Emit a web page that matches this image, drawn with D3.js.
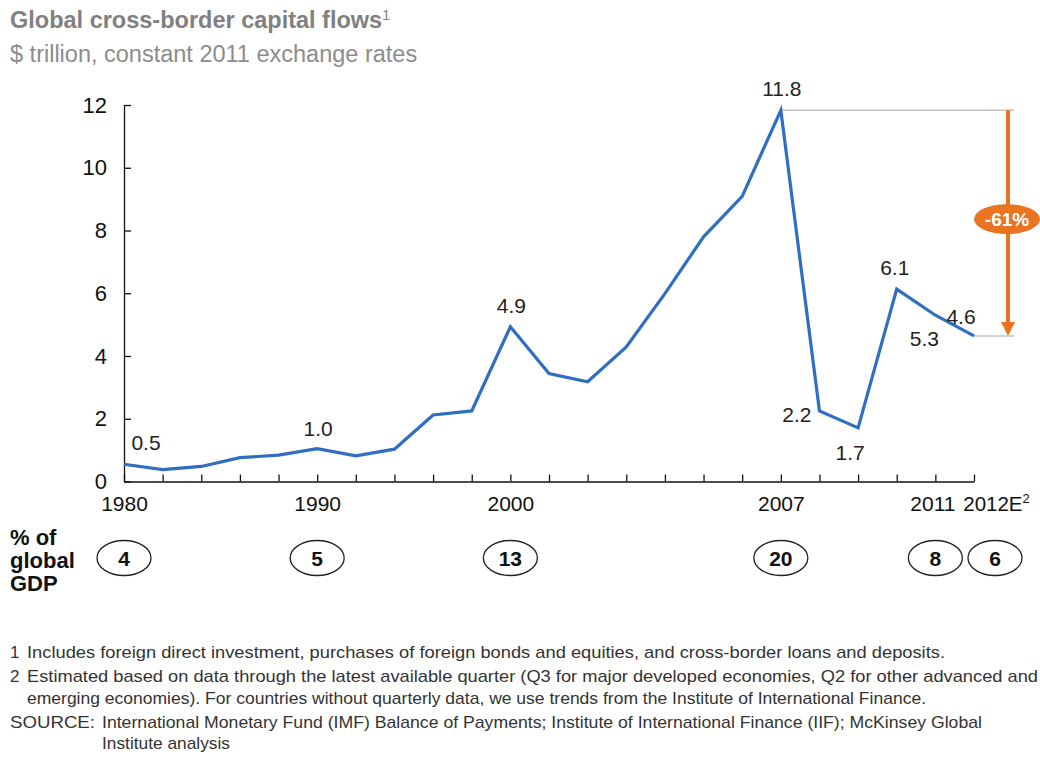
<!DOCTYPE html>
<html>
<head>
<meta charset="utf-8">
<script src="https://cdn.jsdelivr.net/npm/d3@7"></script>
<style>
  html, body { margin: 0; padding: 0; background: #fff; }
  svg { display: block; font-family: "Liberation Sans", Arial, sans-serif; }
</style>
</head>
<body>
<svg id="chart" width="1040" height="762"></svg>
<script>
// ---------- data ----------
const years = ["1980","1982","1984","1986","1988","1990","1992","1994","1996","1998",
               "2000","2001","2002","2003","2004","2005","2006","2007","2008","2009",
               "2010","2011","2012E"];
const flows = [0.55,0.38,0.48,0.76,0.84,1.05,0.82,1.03,2.12,2.25,
               4.93,3.44,3.18,4.29,5.99,7.80,9.09,11.83,2.25,1.71,
               6.13,5.30,4.64];
const labelYears = ["1980","1990","2000","2007","2008","2009","2010","2011","2012E"];
const labelTexts = ["0.5","1.0","4.9","11.8","2.2","1.7","6.1","5.3","4.6"];
const axisYears = ["1980","1990","2000","2007","2011","2012E"];
const gdpShare = [4,5,13,20,8,6];
const yTicks = [0,2,4,6,8,10,12];
const changeLabel = "-61%";
const peakYear = "2007";
const lastYear = "2012E";
const titleText = "Global cross-border capital flows";
const subtitleText = "$ trillion, constant 2011 exchange rates";
const footNums = ["1","2","","SOURCE:",""];
const footTexts = [
  "Includes foreign direct investment, purchases of foreign bonds and equities, and cross-border loans and deposits.",
  "Estimated based on data through the latest available quarter (Q3 for major developed economies, Q2 for other advanced and",
  "emerging economies). For countries without quarterly data, we use trends from the Institute of International Finance.",
  "International Monetary Fund (IMF) Balance of Payments; Institute of International Finance (IIF); McKinsey Global",
  "Institute analysis"
];

// ---------- layout ----------
const svg = d3.select("#chart");
const blue = "#2f6ec0", orange = "#ea7422";
const x = d3.scalePoint().domain(years).range([124, 974]);
const y = d3.scaleLinear().domain([0, 12]).range([481.5, 105]);

// title
const t = svg.append("text").attr("x", 10).attr("y", 28)
  .attr("font-size", 23.5).attr("font-weight", "bold").attr("fill", "#808080")
  .text(titleText);
t.append("tspan").attr("font-size", 14).attr("dy", -8).attr("font-weight", "normal").text("1");
svg.append("text").attr("x", 10).attr("y", 62)
  .attr("font-size", 23.5).attr("fill", "#8c8c8c").text(subtitleText);

// axes
const yAxis = d3.axisLeft(y).tickValues(yTicks).tickSize(-7).tickSizeOuter(0).tickPadding(17)
  .tickFormat(d3.format("d"));
const gy = svg.append("g").attr("transform", "translate(124,0)").call(yAxis);
gy.selectAll("text").attr("font-size", 22).attr("fill", "#111").attr("font-family", "Liberation Sans, Arial, sans-serif");
gy.selectAll("line, path").attr("stroke", "#111").attr("stroke-width", 1.3);

const xAxis = d3.axisBottom(x).tickSize(-7).tickSizeOuter(0).tickPadding(15)
  .tickFormat(d => axisYears.includes(d) ? d : "");
const gx = svg.append("g").attr("transform", "translate(0,481.5)").call(xAxis);
gx.selectAll("text").attr("font-size", 21).attr("fill", "#111").attr("font-family", "Liberation Sans, Arial, sans-serif");
gx.selectAll("line, path").attr("stroke", "#111").attr("stroke-width", 1.3);
// shift 2012E label right and add superscript
gx.selectAll(".tick").filter(d => d === lastYear).select("text")
  .attr("x", 22).attr("font-size", 20.5)
  .append("tspan").attr("font-size", 13).attr("dy", "-0.6em").text("2");
gx.selectAll(".tick").filter(d => d === "2011").select("text").attr("x", -3);

// reference lines
svg.append("line").attr("x1", x(peakYear)).attr("x2", 1014)
  .attr("y1", y(flows[years.indexOf(peakYear)])).attr("y2", y(flows[years.indexOf(peakYear)]))
  .attr("stroke", "#c4c4c4").attr("stroke-width", 1.5);
svg.append("line").attr("x1", x(lastYear)).attr("x2", 1014)
  .attr("y1", y(flows[years.indexOf(lastYear)])).attr("y2", y(flows[years.indexOf(lastYear)]))
  .attr("stroke", "#c4c4c4").attr("stroke-width", 1.5);

// line
svg.append("path")
  .datum(years.map((d, i) => [d, flows[i]]))
  .attr("fill", "none").attr("stroke", blue).attr("stroke-width", 3.2)
  .attr("stroke-linejoin", "miter")
  .attr("d", d3.line().x(d => x(d[0])).y(d => y(d[1])));

// data labels
const labelOffsets = {
  "1980": [22, -14, "middle"], "1990": [1, -13, "middle"], "2000": [1, -14, "middle"],
  "2007": [1, -14, "middle"], "2008": [-8, 11, "end"], "2009": [-8, 32, "middle"],
  "2010": [-2, -14, "middle"], "2011": [-11, 31, "middle"], "2012E": [-13, -12, "middle"]
};
svg.append("g").selectAll("text").data(labelYears).join("text")
  .attr("x", d => x(d) + labelOffsets[d][0])
  .attr("y", d => y(flows[years.indexOf(d)]) + labelOffsets[d][1])
  .attr("text-anchor", d => labelOffsets[d][2])
  .attr("font-size", 21).attr("fill", "#222")
  .text((d, i) => labelTexts[i]);

// orange arrow
const ax = 1008;
const yTop = y(flows[years.indexOf(peakYear)]);
const yBot = y(flows[years.indexOf(lastYear)]);
svg.append("line").attr("x1", ax).attr("x2", ax).attr("y1", yTop).attr("y2", yBot - 12)
  .attr("stroke", orange).attr("stroke-width", 4);
svg.append("path")
  .attr("d", `M${ax - 7},${yBot - 14}L${ax + 7},${yBot - 14}L${ax},${yBot}Z`)
  .attr("fill", orange);
const bubbleY = (yTop + yBot) / 2 - 4;
svg.append("ellipse").attr("cx", ax - 1).attr("cy", bubbleY).attr("rx", 33).attr("ry", 15)
  .attr("fill", orange);
svg.append("text").attr("x", ax - 1).attr("y", bubbleY + 7)
  .attr("text-anchor", "middle").attr("font-size", 19).attr("font-weight", "bold")
  .attr("fill", "#fff").text(changeLabel);

// % of global GDP row
const gdpLabel = svg.append("g").attr("font-size", 22).attr("font-weight", "bold").attr("fill", "#111");
["% of", "global", "GDP"].forEach((s, i) =>
  gdpLabel.append("text").attr("x", 10).attr("y", 545 + i * 23).text(s));
const gdpOffsets = {"2012E": 21};
const gg = svg.append("g").selectAll("g").data(axisYears).join("g")
  .attr("transform", d => `translate(${x(d) + (gdpOffsets[d] || 0)},558)`);
gg.append("ellipse").attr("rx", 27).attr("ry", 17.5)
  .attr("fill", "#fff").attr("stroke", "#222").attr("stroke-width", 1.3);
gg.append("text").attr("y", 7.5).attr("text-anchor", "middle")
  .attr("font-size", 21).attr("font-weight", "bold").attr("fill", "#111")
  .text((d, i) => gdpShare[i]);

// footnotes
const footY = [658, 682, 704, 728, 749];
const footX = [27, 27, 27, 102, 102];
const footW = [918, 1011, 899, 880, 128];
const fn = svg.append("g").attr("font-size", 17).attr("fill", "#333");
footTexts.forEach((s, i) => {
  if (footNums[i]) {
    const nt = fn.append("text").attr("x", 10).attr("y", footY[i]).text(footNums[i]);
    if (footNums[i].length > 2) nt.attr("textLength", 85).attr("lengthAdjust", "spacingAndGlyphs");
  }
  fn.append("text").attr("x", footX[i]).attr("y", footY[i])
    .attr("textLength", footW[i]).attr("lengthAdjust", "spacingAndGlyphs").text(s);
});
</script>
</body>
</html>
